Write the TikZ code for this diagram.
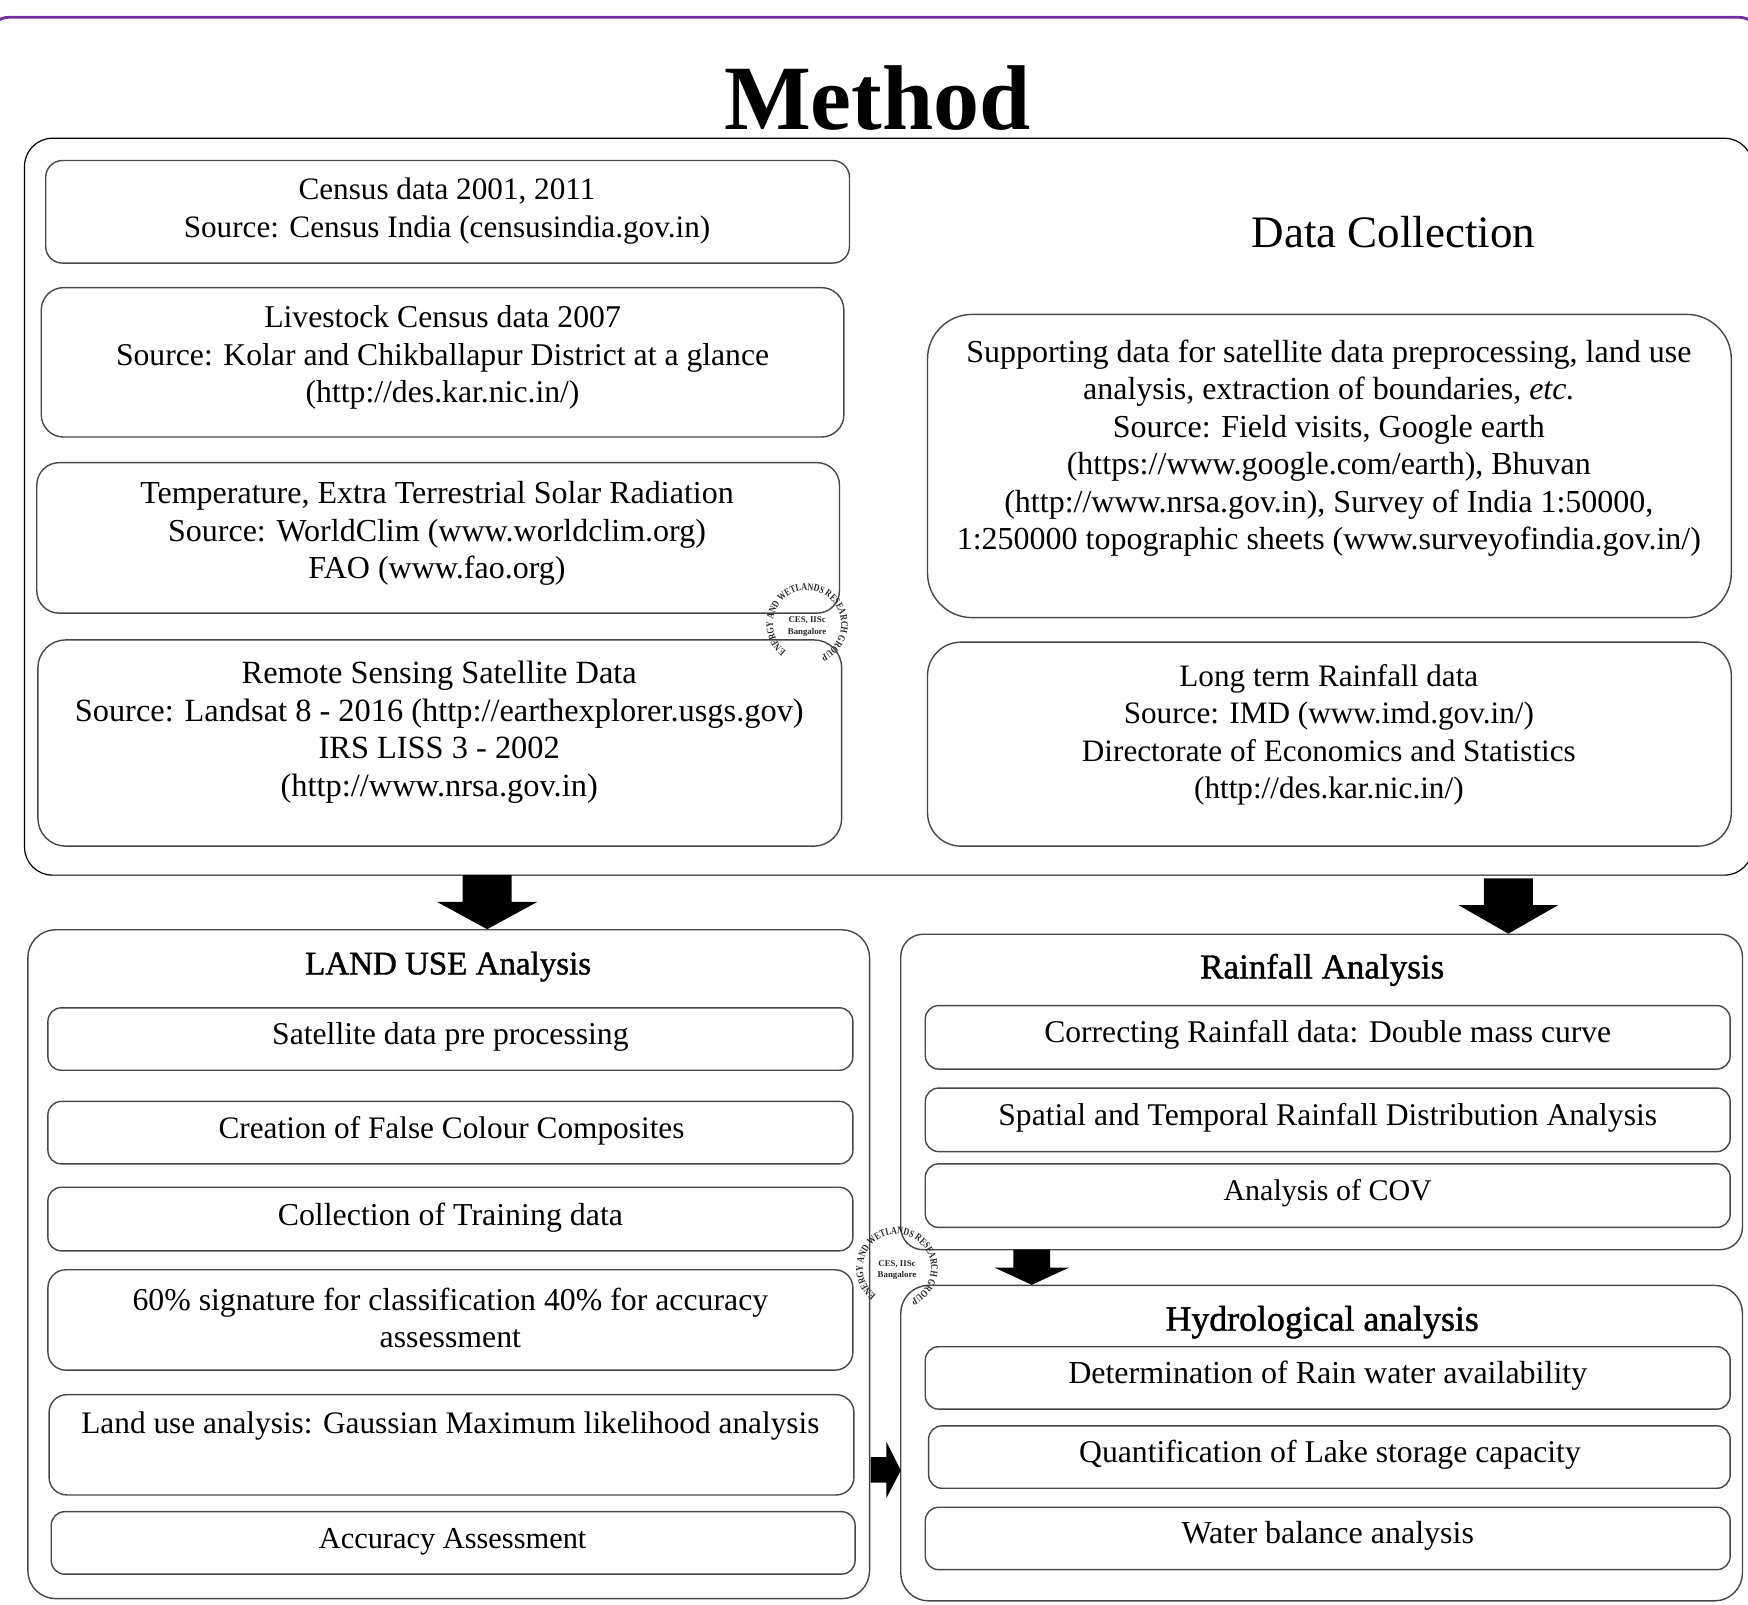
\documentclass[tikz,border=0pt]{standalone}
\usepackage{fontspec}
\setmainfont{Liberation Serif}
\newfontfamily\headfont[FakeBold=1.2]{Liberation Serif}
\newfontfamily\stampfont[FakeStretch=0.78,UprightFont=* Bold]{Liberation Serif}
\usetikzlibrary{decorations.text}
\definecolor{purp}{HTML}{7030A0}
\tikzset{
  box/.style={draw=black!72,line width=0.7pt,inner sep=0pt},
  outerbox/.style={draw=black,line width=0.6pt,rounded corners=14pt},
  txt/.style={align=center,inner sep=0pt,font=\fontsize{#1}{18.75}\selectfont},
  headtxt/.style={inner sep=0pt,font=\fontsize{#1}{20}\selectfont\headfont},
  blockarrow/.style={fill=black,draw=none},
  stampmid/.style={align=center,inner sep=0pt,font=\fontsize{4.4}{5.6}\selectfont\bfseries,text=black!85},
}
\newcommand{\bx}[6]{\node[box,rounded corners=#6*0.5574pt,minimum width={(#4-#2)*0.5574pt},minimum height={(#5-#3)*0.5574pt}] (#1) at ({(#2+#4)/2},{(#3+#5)/2}) {};}
\newcommand{\downblock}[6]{\fill[blockarrow] ({#1-#5},#2) -- ({#1+#5},#2) -- ({#1+#5},#3) -- ({#1+#6},#3) -- (#1,#4) -- ({#1-#6},#3) -- ({#1-#5},#3) -- cycle;}
\newcommand{\stamp}[3]{%
  \path[decorate,decoration={text along path,text align=center,
    text={|\fontsize{5.1}{6}\stampfont\color{black!85}|ENERGY AND WETLANDS RESEARCH GROUP}}]
    (#1,#2) ++(-237:30.6) arc[start angle=-237,end angle=71,radius=30.6];
  \node[stampmid] (#3) at (#1,{#2+2}) {CES, IISc\\Bangalore};}
\begin{document}
\begin{tikzpicture}[x=0.5574pt,y=-0.5574pt]
\useasboundingbox (0,0) rectangle (1568,1439.7);
% purple frame
\draw[purp,line width=1.4pt,rounded corners=10pt] (-10,60) -- (-10,15.5) -- (1578,15.5) -- (1578,60);
\node[inner sep=0pt,font=\fontsize{46}{50}\selectfont\bfseries] (title) at (787,88) {Method};
% outer data collection
\draw[outerbox] (22,124) rectangle (1572,785);
\node[inner sep=0pt,font=\fontsize{22.5}{26}\selectfont] (dc) at (1250,208) {Data Collection};
% data boxes
\bx{b1}{41}{144}{762}{236}{15}
\node[txt=15.6] (t1) at (401,189.5) {Census data 2001, 2011\\Source: Census India (censusindia.gov.in)};
\bx{b2}{37}{258}{757}{392}{20}
\node[txt=15.85] (t2) at (397,321) {Livestock Census data 2007\\Source: Kolar and Chikballapur District at a glance\\(http://des.kar.nic.in/)};
\bx{b3}{33}{415}{753}{550}{20}
\node[txt=16] (t3) at (392,478.5) {Temperature, Extra Terrestrial Solar Radiation\\Source: WorldClim (www.worldclim.org)\\FAO (www.fao.org)};
\bx{b4}{34}{574}{755}{759}{25}
\node[txt=16.2] (t4) at (394,657) {Remote Sensing Satellite Data\\Source: Landsat 8 - 2016 (http://earthexplorer.usgs.gov)\\IRS LISS 3 - 2002\\(http://www.nrsa.gov.in)};
\bx{b5}{832}{282}{1553}{554}{40}
\node[txt=16] (t5) at (1192,402) {Supporting data for satellite data preprocessing, land use\\analysis, extraction of boundaries, \textit{etc.}\\Source: Field visits, Google earth\\(https://www.google.com/earth), Bhuvan\\(http://www.nrsa.gov.in), Survey of India 1:50000,\\1:250000 topographic sheets (www.surveyofindia.gov.in/)};
\bx{b6}{832}{576}{1553}{759}{30}
\node[txt=15.6] (t6) at (1192,659) {Long term Rainfall data\\Source: IMD (www.imd.gov.in/)\\Directorate of Economics and Statistics\\(http://des.kar.nic.in/)};
% land use
\bx{lu}{25}{834}{780}{1434}{25}
\node[headtxt=16.5] (luh) at (402,867) {LAND USE Analysis};
\bx{l1}{43}{904}{765}{960}{12}
\node[txt=15.85] (lt1) at (404,930) {Satellite data pre processing};
\bx{l2}{43}{988}{765}{1044}{12}
\node[txt=15.65] (lt2) at (405,1014) {Creation of False Colour Composites};
\bx{l3}{43}{1065}{765}{1122}{12}
\node[txt=15.95] (lt3) at (404,1092) {Collection of Training data};
\bx{l4}{43}{1139}{765}{1229}{16}
\node[txt=15.9] (lt4) at (404,1182) {60\% signature for classification 40\% for accuracy\\assessment};
\bx{l5}{44}{1251}{766}{1341}{16}
\node[txt=15.65] (lt5) at (404,1279) {Land use analysis: Gaussian Maximum likelihood analysis};
\bx{l6}{46}{1356}{767}{1412}{12}
\node[txt=15.2] (lt6) at (406,1383) {Accuracy Assessment};
% rainfall
\bx{ra}{808}{838}{1563}{1121}{20}
\node[headtxt=17.5] (rah) at (1186,870) {Rainfall Analysis};
\bx{r1}{830}{902}{1552}{959}{12}
\node[txt=15.8] (rt1) at (1191,928) {Correcting Rainfall data: Double mass curve};
\bx{r2}{830}{976}{1552}{1033}{12}
\node[txt=15.8] (rt2) at (1191,1003) {Spatial and Temporal Rainfall Distribution Analysis};
\bx{r3}{830}{1044}{1552}{1101}{12}
\node[txt=15] (rt3) at (1191,1070) {Analysis of COV};
% hydro
\bx{hy}{808}{1153}{1563}{1436}{25}
\node[headtxt=17.9] (hyh) at (1186,1186) {Hydrological analysis};
\bx{h1}{830}{1208}{1552}{1264}{12}
\node[txt=16] (ht1) at (1191,1234) {Determination of Rain water availability};
\bx{h2}{833}{1279}{1552}{1335}{12}
\node[txt=15.85] (ht2) at (1193,1305) {Quantification of Lake storage capacity};
\bx{h3}{830}{1352}{1552}{1408}{12}
\node[txt=16] (ht3) at (1191,1378) {Water balance analysis};
% block arrows
\downblock{437}{785}{809}{833.5}{22}{45}
\downblock{1353}{788}{812}{837.5}{22}{44.5}
\downblock{925.5}{1121}{1137}{1152.5}{16.5}{33.5}
\fill[blockarrow] (781,1307) -- (795,1307) -- (795,1293) -- (808,1319) -- (795,1344) -- (795,1330) -- (781,1330) -- cycle;
% stamps
\stamp{724}{560}{s1}
\stamp{804.6}{1137.6}{s2}
\end{tikzpicture}
\end{document}
